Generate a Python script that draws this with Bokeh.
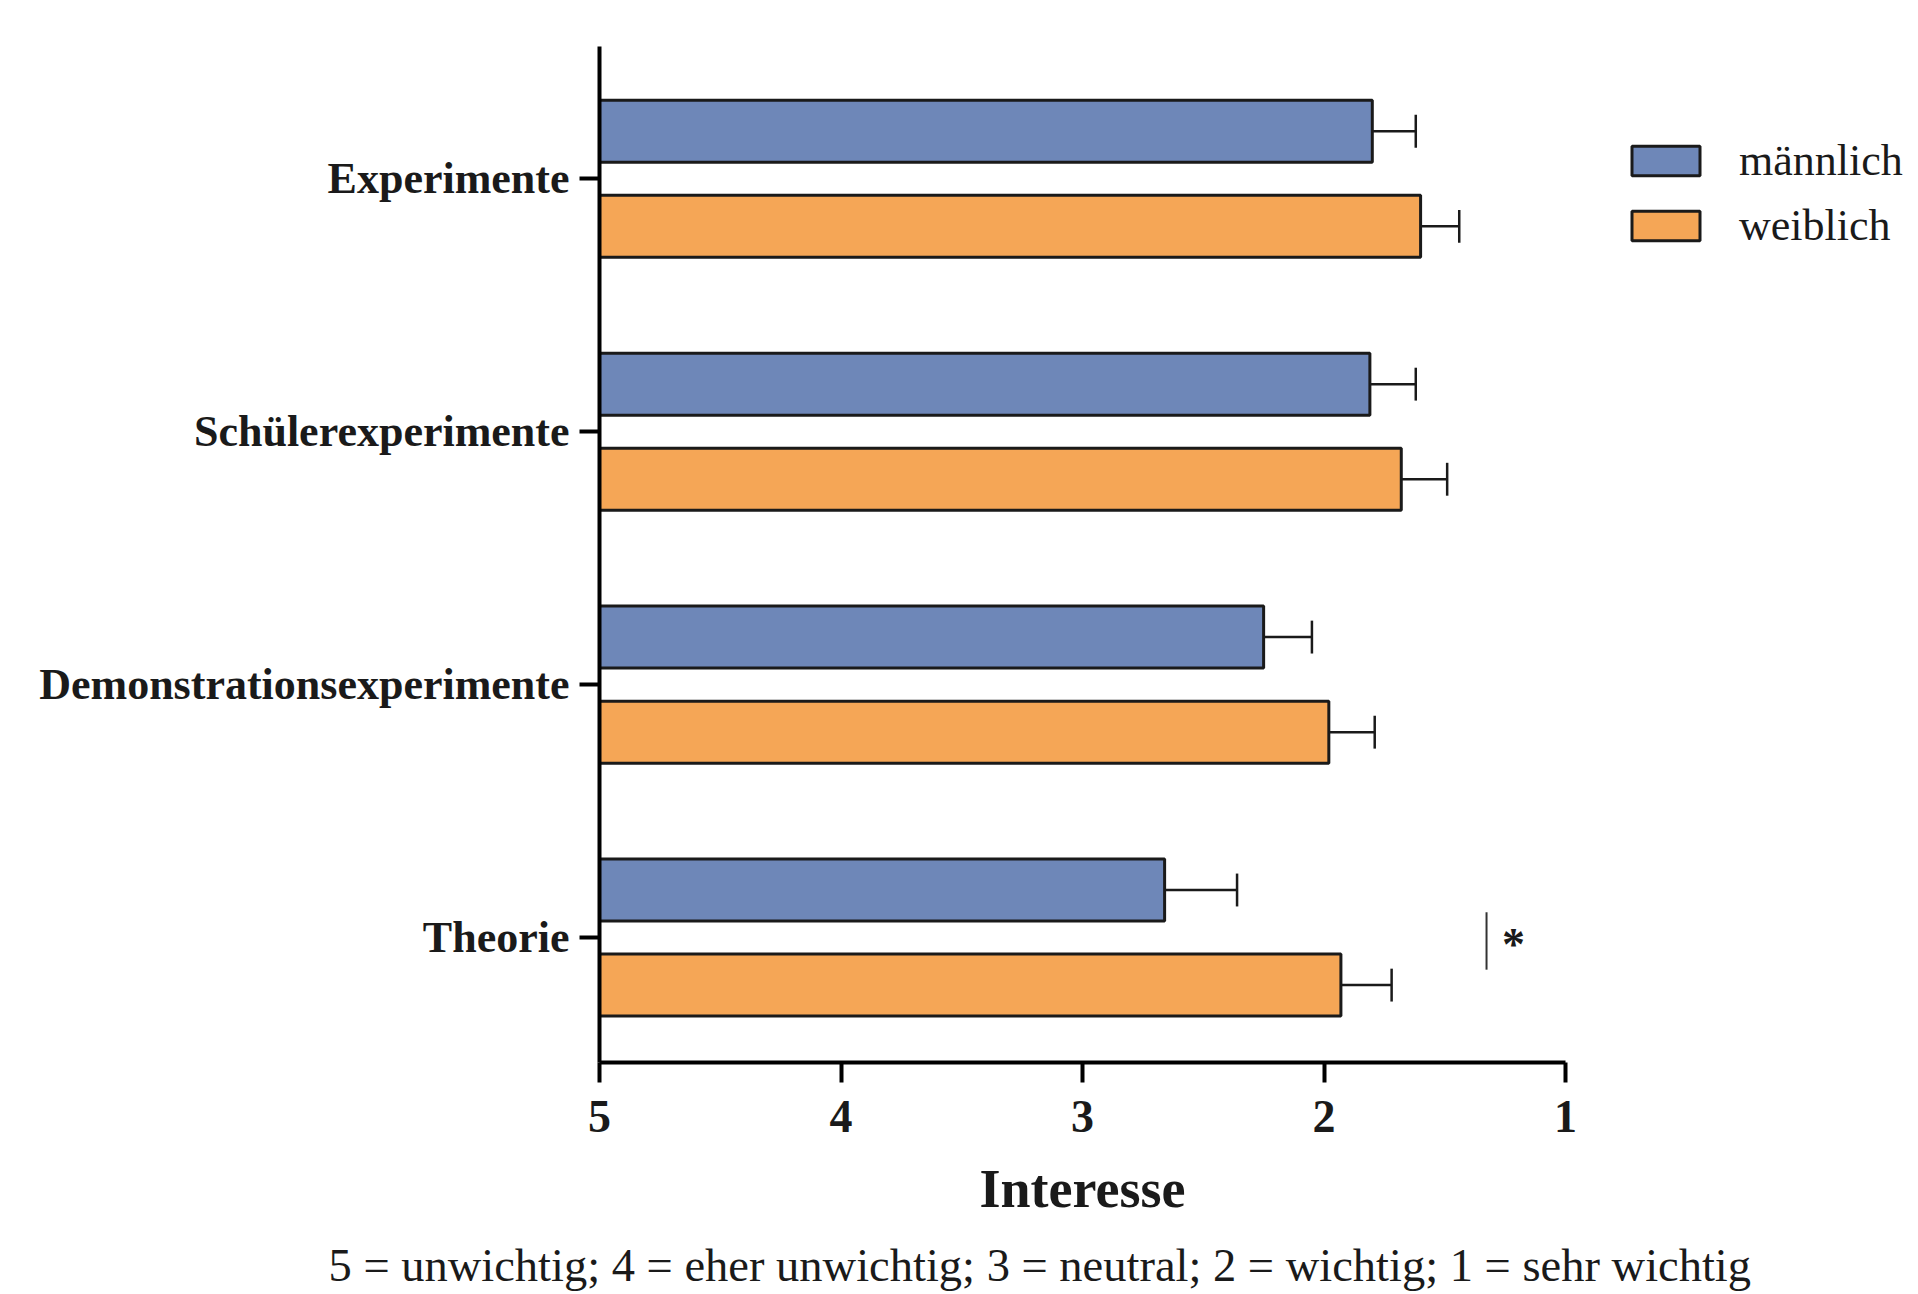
from bokeh.plotting import figure
from bokeh.models import ColumnDataSource, Range1d, FixedTicker, Legend, LegendItem, Label, Title
from bokeh.embed import file_html
from bokeh.resources import INLINE

# ---- data ----
categories = ["Experimente", "Schülerexperimente", "Demonstrationsexperimente", "Theorie"]
maennlich = [1.80, 1.81, 2.25, 2.66]
maennlich_err = [0.18, 0.19, 0.20, 0.30]
weiblich = [1.60, 1.68, 1.98, 1.93]
weiblich_err = [0.16, 0.19, 0.19, 0.21]
x_ticks = [5, 4, 3, 2, 1]
series_names = ["männlich", "weiblich"]
x_title = "Interesse"
scale_note = "5 = unwichtig; 4 = eher unwichtig; 3 = neutral; 2 = wichtig; 1 = sehr wichtig"
sig_label = "*"

# ---- styling ----
FONT = "Liberation Serif"
BLUE = "#6E87B8"
ORANGE = "#F5A656"
INK = "#1a1a1a"
OFFSET = 0.188
BAR_H = 0.245
CAP = 0.065

n = len(categories)
base = [n - 1 - i for i in range(n)]

def series_source(vals, errs, shift):
    ys = [b + shift for b in base]
    ends = [v - e for v, e in zip(vals, errs)]
    return ColumnDataSource(dict(
        y=ys, right=vals, left=[5] * n, end=ends,
        y0=[y - CAP for y in ys], y1=[y + CAP for y in ys],
    ))

src_m = series_source(maennlich, maennlich_err, OFFSET)
src_w = series_source(weiblich, weiblich_err, -OFFSET)

p = figure(frame_width=966, frame_height=1016,
           x_range=Range1d(5, 1), y_range=Range1d(-0.494, 3.523),
           output_backend="svg", toolbar_location=None,
           min_border_left=599, min_border_right=345,
           min_border_top=46, min_border_bottom=230)
p.outline_line_color = None
p.xgrid.grid_line_color = None
p.ygrid.grid_line_color = None
p.background_fill_color = "white"
p.border_fill_color = "white"

renderers = []
for src, col in ((src_m, BLUE), (src_w, ORANGE)):
    r = p.hbar(y="y", left="left", right="right", height=BAR_H, source=src,
               fill_color=col, line_color=INK, line_width=3)
    p.segment(x0="right", y0="y", x1="end", y1="y", source=src,
              line_color=INK, line_width=2.5)
    p.segment(x0="end", y0="y0", x1="end", y1="y1", source=src,
              line_color=INK, line_width=2.5)
    renderers.append(r)

# significance marker (Theorie)
sig_x = 1.327
sig_y0, sig_y1 = -0.127, 0.100
p.segment(x0=[sig_x], y0=[sig_y0], x1=[sig_x], y1=[sig_y1], line_color="#333333", line_width=2)
p.add_layout(Label(x=1.215, y=-0.028, text=sig_label, text_align="center",
                   text_baseline="alphabetic", text_font=FONT, text_font_style="bold",
                   text_font_size="46px", text_color=INK))

# axes
xa = p.xaxis[0]
xa.ticker = FixedTicker(ticks=x_ticks)
xa.minor_tick_line_color = None
xa.major_tick_in = 0
xa.major_tick_out = 20
xa.major_tick_line_width = 4
xa.axis_line_width = 4
xa.major_label_text_font = FONT
xa.major_label_text_font_style = "bold"
xa.major_label_text_font_size = "46px"
xa.major_label_text_color = INK
xa.major_label_standoff = 18
xa.axis_label = x_title
xa.axis_label_text_font = FONT
xa.axis_label_text_font_style = "bold"
xa.axis_label_text_font_size = "54px"
xa.axis_label_text_color = INK
xa.axis_label_standoff = 24

ya = p.yaxis[0]
ya.ticker = FixedTicker(ticks=base)
ya.major_label_overrides = {b: c for b, c in zip(base, categories)}
ya.minor_tick_line_color = None
ya.major_tick_in = 0
ya.major_tick_out = 20
ya.major_tick_line_width = 4
ya.axis_line_width = 4
ya.major_label_text_font = FONT
ya.major_label_text_font_style = "bold"
ya.major_label_text_font_size = "44px"
ya.major_label_text_color = INK
ya.major_label_standoff = 10

# scale note under the axis title
note = Title(text=scale_note, align="left", offset=-271, standoff=32,
             text_font=FONT, text_font_style="normal", text_font_size="46.5px",
             text_color=INK)
p.add_layout(note, "below")

legend = Legend(items=[LegendItem(label=series_names[0], renderers=[renderers[0]]),
                       LegendItem(label=series_names[1], renderers=[renderers[1]])],
                location=(58, 811), glyph_width=85, glyph_height=37,
                label_standoff=31, spacing=14, padding=0, margin=0,
                label_text_font=FONT, label_text_font_size="44px",
                label_text_color=INK,
                border_line_color=None, background_fill_alpha=0)
p.add_layout(legend, "right")

open("out.html", "w").write(file_html(p, INLINE))
